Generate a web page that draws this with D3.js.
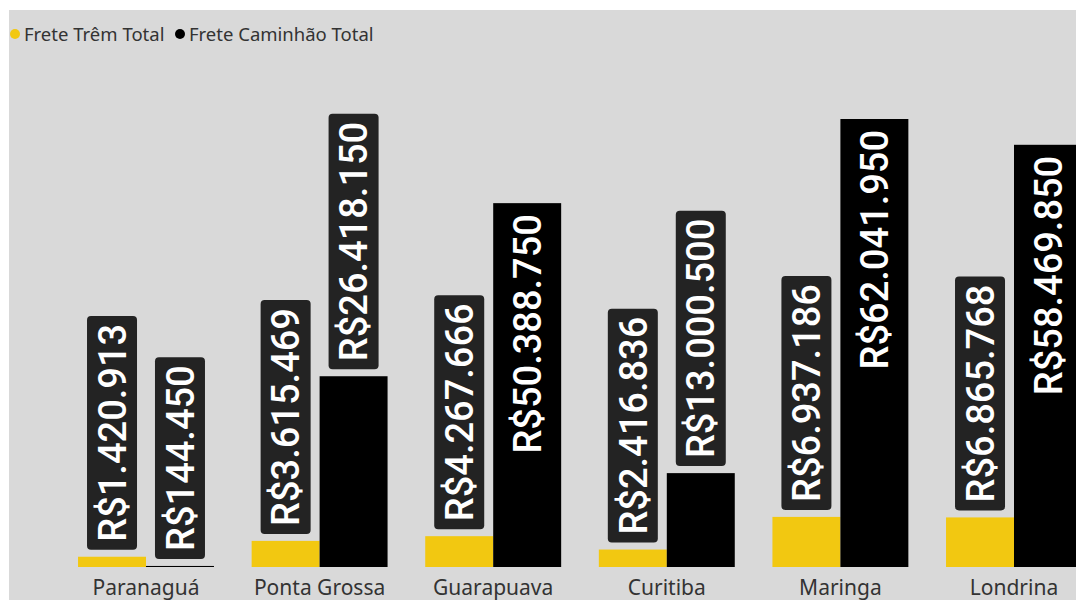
<!DOCTYPE html>
<html>
<head>
<meta charset="utf-8">
<script src="https://cdn.jsdelivr.net/npm/d3@7"></script>
<style>
  body { margin: 0; background: #fff; }
  .legendText { font-family: "Noto Sans", "Open Sans", sans-serif; font-size: 18.5px; fill: #333; }
  .cat { font-family: "Noto Sans", "Open Sans", sans-serif; font-size: 21px; fill: #333; }
  .val { font-family: Roboto, "DejaVu Sans Condensed", sans-serif; font-size: 38px; font-weight: 500; fill: #fff; }
</style>
</head>
<body>
<div id="chart"></div>
<script>
// DATA
var cities = ["Paranaguá", "Ponta Grossa", "Guarapuava", "Curitiba", "Maringa", "Londrina"];
var freteTrem = [1420913, 3615469, 4267666, 2416836, 6937186, 6865768];
var freteCaminhao = [144450, 26418150, 50388750, 13000500, 62041950, 58469850];
var seriesNames = ["Frete Trêm Total", "Frete Caminhão Total"];
var seriesColors = ["#F2C811", "#000000"];

var width = 1076, height = 600;
var bg = {x: 9, y: 10};
var baseline = 567;

var svg = d3.select("#chart").append("svg")
    .attr("width", width)
    .attr("height", height);

svg.append("rect")
    .attr("x", bg.x).attr("y", bg.y)
    .attr("width", width - bg.x).attr("height", height - bg.y)
    .attr("fill", "#d9d9d9");

var locale = d3.formatLocale({decimal: ",", thousands: ".", grouping: [3], currency: ["R$", ""]});
var fmt = locale.format(",.0f");

var x0 = d3.scaleBand().domain(cities).range([59.2, 1100.8]).paddingInner(0.217).paddingOuter(0.1085);
var x1 = d3.scaleBand().domain([0, 1]).range([0, x0.bandwidth()]);
var y = d3.scaleLinear().domain([0, d3.max(freteCaminhao)]).range([baseline, 119]);

var data = [];
cities.forEach(function(c, i) {
    data.push({city: c, s: 0, v: freteTrem[i]});
    data.push({city: c, s: 1, v: freteCaminhao[i]});
});

/* LEGEND */
var lx = [15, 180];
seriesNames.forEach(function(n, i) {
    svg.append("circle").attr("cx", lx[i]).attr("cy", 34).attr("r", 5).attr("fill", seriesColors[i]);
    svg.append("text").attr("class", "legendText").attr("x", lx[i] + 9).attr("y", 40.5).text(n);
});

/* BARS */
var g = svg.append("g");
g.selectAll("rect.bar")
    .data(data)
    .enter().append("rect")
    .attr("class", "bar")
    .attr("x", function(d) { return x0(d.city) + x1(d.s); })
    .attr("y", function(d) { return y(d.v); })
    .attr("width", x1.bandwidth())
    .attr("height", function(d) { return Math.max(1, baseline - y(d.v)); })
    .attr("fill", function(d) { return seriesColors[d.s]; });

/* CATEGORY LABELS */
svg.selectAll("text.cat")
    .data(cities)
    .enter().append("text")
    .attr("class", "cat")
    .attr("x", function(d) { return x0(d) + x0.bandwidth() / 2; })
    .attr("y", 595)
    .attr("text-anchor", "middle")
    .text(function(d) { return d; });

/* DATA LABELS */
data.forEach(function(d) {
    var cx = x0(d.city) + x1(d.s) + x1.bandwidth() / 2;
    var top = y(d.v);
    var lbl = svg.append("g");
    var t = lbl.append("text").attr("class", "val").attr("dy", "0.36em").text("R$" + fmt(d.v));
    var len = t.node().getComputedTextLength();
    var barH = baseline - top;
    if (barH > len + 24) {
        // inside end
        lbl.attr("transform", "translate(" + cx + "," + (top + 11) + ") rotate(-90)");
        t.attr("text-anchor", "end");
    } else {
        lbl.attr("transform", "translate(" + cx + "," + (top - 15) + ") rotate(-90)");
        lbl.insert("rect", "text")
            .attr("x", -8).attr("y", -25)
            .attr("width", len + 16).attr("height", 50)
            .attr("rx", 4).attr("ry", 4)
            .attr("fill", "#232323");
    }
});
</script>
</body>
</html>
